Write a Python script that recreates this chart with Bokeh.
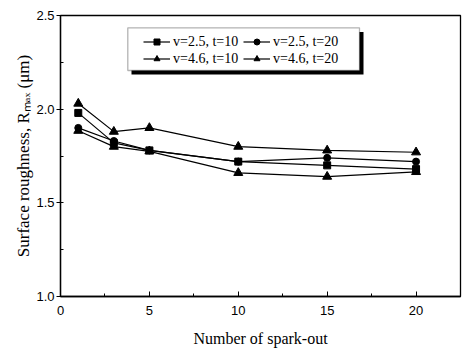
from bokeh.plotting import figure
from bokeh.models import (Range1d, SingleIntervalTicker, Legend, LegendItem,
                          BoxAnnotation, NumeralTickFormatter)
from bokeh.embed import file_html
from bokeh.resources import INLINE

# ---- data ----
spark_out = [1, 3, 5, 10, 15, 20]
s_v25_t10 = [1.98, 1.82, 1.78, 1.72, 1.70, 1.68]
s_v25_t20 = [1.90, 1.83, 1.78, 1.72, 1.74, 1.72]
s_v46_t10 = [1.885, 1.80, 1.775, 1.66, 1.64, 1.665]
s_v46_t20 = [2.03, 1.88, 1.90, 1.80, 1.78, 1.77]
series_labels = ["v=2.5, t=10", "v=2.5, t=20", "v=4.6, t=10", "v=4.6, t=20"]
x_axis_title = "Number of spark-out"
y_axis_title = "Surface roughness, R\u2098\u2090\u2093 (\u03bcm)"

W, H = 467, 353
L, R, T, B = 60, 7, 15, 57
X0, X1 = 0, 22.5
Y0, Y1 = 1.0, 2.5

p = figure(width=W, height=H, output_backend="svg", toolbar_location=None,
           x_range=Range1d(X0, X1), y_range=Range1d(Y0, Y1),
           min_border_left=L, min_border_right=R, min_border_top=T,
           min_border_bottom=B)
p.background_fill_color = "white"
p.border_fill_color = "white"
p.outline_line_color = "black"
p.outline_line_width = 1.3
p.xgrid.visible = False
p.ygrid.visible = False

fw = W - L - R
fh = H - T - B
def dx(px):
    return X0 + (px - L) / fw * (X1 - X0)
def dy(py):
    return Y1 - (py - T) / fh * (Y1 - Y0)

p.xaxis.ticker = SingleIntervalTicker(interval=5, num_minor_ticks=2)
p.yaxis.ticker = SingleIntervalTicker(interval=0.5, num_minor_ticks=2)
p.yaxis.formatter = NumeralTickFormatter(format="0.0")
for ax in (p.xaxis[0], p.yaxis[0]):
    ax.axis_line_color = "black"
    ax.axis_line_width = 1.3
    ax.major_tick_line_color = "black"
    ax.minor_tick_line_color = "black"
    ax.major_label_text_font = "Liberation Sans"
    ax.major_label_text_font_size = "13px"
    ax.major_label_text_color = "black"
    ax.axis_label_text_font = "Liberation Serif"
    ax.axis_label_text_font_style = "normal"
    ax.axis_label_text_color = "black"
p.xaxis.major_tick_in = 5
p.xaxis.major_tick_out = 0
p.xaxis.minor_tick_in = 3
p.xaxis.minor_tick_out = 0
p.xaxis.major_label_standoff = 9
p.xaxis.axis_label = x_axis_title
p.xaxis.axis_label_text_font_size = "16px"
p.xaxis.axis_label_standoff = 12

p.yaxis.major_tick_in = 0
p.yaxis.major_tick_out = 4
p.yaxis.minor_tick_in = 3
p.yaxis.minor_tick_out = 0
p.yaxis.major_label_standoff = 2
p.yaxis.axis_label = y_axis_title
p.yaxis.axis_label_text_font_size = "17px"
p.yaxis.axis_label_standoff = 0

markers = ["square", "circle", "triangle", "triangle"]
sizes = [7, 7, 9, 9]
data = [s_v25_t10, s_v25_t20, s_v46_t10, s_v46_t20]
items = []
for ys, mk, sz, lbl in zip(data, markers, sizes, series_labels):
    ln = p.line(spark_out, ys, line_color="black", line_width=1.2)
    sc = p.scatter(spark_out, ys, marker=mk, size=sz, fill_color="black",
                   line_color="black")
    items.append(LegendItem(label=lbl, renderers=[ln, sc]))

# legend frame with drop shadow
shadow = BoxAnnotation(left=dx(131), right=dx(363), top=dy(31.5), bottom=dy(74),
                       fill_color="black", fill_alpha=1, line_color=None)
box = BoxAnnotation(left=dx(127.3), right=dx(359), top=dy(27.3), bottom=dy(70),
                    fill_color="white", fill_alpha=1, line_color="black",
                    line_width=1.3)
p.add_layout(shadow)
p.add_layout(box)

legend = Legend(items=items, orientation="horizontal", ncols=2,
                location=(143 - L, (H - B) - 66.5), margin=0, padding=0,
                spacing=1, glyph_width=27, glyph_height=15, label_height=15,
                label_width=69, label_standoff=3,
                label_text_font="Liberation Serif", label_text_font_size="14px",
                label_text_color="black",
                border_line_color=None, background_fill_alpha=0)
p.add_layout(legend)

open("out.html", "w").write(file_html(p, INLINE))
